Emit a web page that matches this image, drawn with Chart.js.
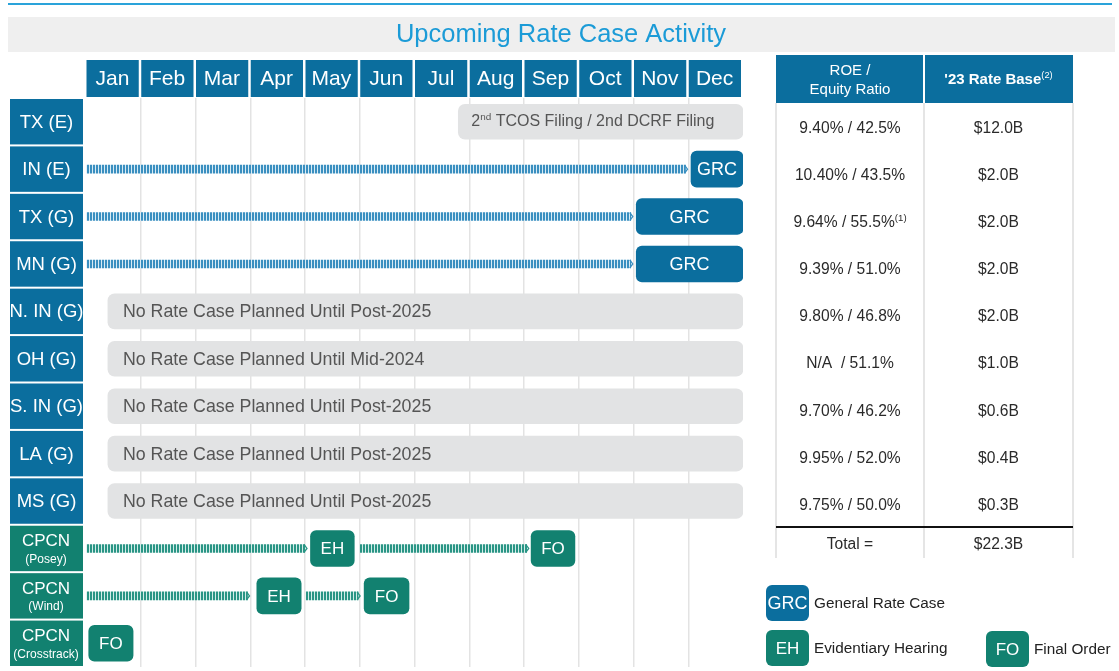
<!DOCTYPE html>
<html>
<head>
<meta charset="utf-8">
<script src="https://cdn.jsdelivr.net/npm/chart.js@4.4.1/dist/chart.umd.min.js"></script>
<style>
  html, body { margin: 0; padding: 0; background: #fff; }
  #wrap { width: 1119px; height: 671px; }
</style>
</head>
<body>
<div id="wrap"><canvas id="rateChart" width="1119" height="671"></canvas></div>
<script>
// ---- data ----
const months = ['Jan','Feb','Mar','Apr','May','Jun','Jul','Aug','Sep','Oct','Nov','Dec'];
const rows = ['TX (E)','IN (E)','TX (G)','MN (G)','N. IN (G)','OH (G)','S. IN (G)','LA (G)','MS (G)',
  ['CPCN','(Posey)'],['CPCN','(Wind)'],['CPCN','(Crosstrack)']];

// gray "no activity" bars (month units, 0 = start of Jan)
const noCaseBars = [[6.8,12],null,null,null,[0.4,12],[0.4,12],[0.4,12],[0.4,12],[0.4,12],null,null,null];
const noCaseText = ['2^nd^ TCOS Filing / 2nd DCRF Filing',null,null,null,
  'No Rate Case Planned Until Post-2025','No Rate Case Planned Until Mid-2024',
  'No Rate Case Planned Until Post-2025','No Rate Case Planned Until Post-2025',
  'No Rate Case Planned Until Post-2025',null,null,null];

// arrows and milestone boxes
const leadArrows  = [null,[0,10.95],[0,9.95],[0,9.95],null,null,null,null,null,[0,4.0],[0,2.95],null];
const firstEvent  = [null,[11.05,12],[10.05,12],[10.05,12],null,null,null,null,null,[4.1,4.9],[3.12,3.93],[0.05,0.86]];
const firstLabel  = [null,'GRC','GRC','GRC',null,null,null,null,null,'EH','EH','FO'];
const midArrows   = [null,null,null,null,null,null,null,null,null,[5.0,8.05],[4.02,4.97],null];
const secondEvent = [null,null,null,null,null,null,null,null,null,[8.13,8.93],[5.08,5.9],null];
const secondLabel = [null,null,null,null,null,null,null,null,null,'FO','FO',null];

// side table
const tableHeads = [['ROE /','Equity Ratio'], ["'23 Rate Base^(2)"]];
const roeEquity = ['9.40% / 42.5%','10.40% / 43.5%','9.64% / 55.5%^(1)','9.39% / 51.0%','9.80% / 46.8%',
  'N/A  / 51.1%','9.70% / 46.2%','9.95% / 52.0%','9.75% / 50.0%'];
const rateBase = ['$12.0B','$2.0B','$2.0B','$2.0B','$2.0B','$1.0B','$0.6B','$0.4B','$0.3B'];
const totalLabel = 'Total =';
const rateBaseTotal = '$22.3B';

const legendItems = [['GRC','General Rate Case'],['EH','Evidentiary Hearing'],['FO','Final Order']];
const title = 'Upcoming Rate Case Activity';

// ---- styles ----
const FONT = '"Liberation Sans", Arial, Helvetica, sans-serif';
const BLUE = '#0b6e9e';
const TEAL = '#128170';
const GRAY = '#e2e3e4';

function isCpcn(i) { return Array.isArray(rows[i]); }

function stripePattern(dark, light) {
  const c = document.createElement('canvas');
  c.width = 3; c.height = 10;
  const g = c.getContext('2d');
  g.fillStyle = light; g.fillRect(0, 0, 3, 10);
  g.fillStyle = dark; g.fillRect(0, 0, 2, 10);
  return g.createPattern(c, 'repeat');
}
const bluePattern = stripePattern('#3a8fc0', '#d8ebf5');
const tealPattern = stripePattern('#2a9585', '#d4ede9');

function richText(ctx, str, x, y, size, align, weight) {
  const parts = str.split('^');
  const w8 = weight || 'normal';
  let total = 0;
  parts.forEach((p, i) => {
    ctx.font = w8 + ' ' + (i % 2 ? size * 0.62 : size) + 'px ' + FONT;
    total += ctx.measureText(p).width;
  });
  let cx = align === 'center' ? x - total / 2 : x;
  ctx.textAlign = 'left';
  ctx.textBaseline = 'middle';
  parts.forEach((p, i) => {
    const s = i % 2 ? size * 0.62 : size;
    ctx.font = (i % 2 ? 'normal' : w8) + ' ' + s + 'px ' + FONT;
    ctx.fillText(p, cx, i % 2 ? y - size * 0.3 : y);
    cx += ctx.measureText(p).width;
  });
}

function roundBox(ctx, x, y, w, h, r, color) {
  ctx.fillStyle = color;
  ctx.beginPath();
  ctx.roundRect(x, y, w, h, r);
  ctx.fill();
}

const frame = {
  id: 'frame',
  beforeDraw(chart) {
    const ctx = chart.ctx;
    const xs = chart.scales.x, ys = chart.scales.y;
    const area = chart.chartArea;
    const rowH = (area.bottom - area.top) / rows.length;
    ctx.save();

    // top rule + title band
    ctx.fillStyle = '#2aa3da';
    ctx.fillRect(8, 3, 1104, 2);
    ctx.fillStyle = '#efefef';
    ctx.fillRect(8, 17, 1107, 35);
    ctx.fillStyle = '#1b9bd7';
    ctx.font = '25.5px ' + FONT;
    ctx.textAlign = 'center';
    ctx.textBaseline = 'middle';
    ctx.fillText(title, 561, 35);

    // month header
    months.forEach((m, i) => {
      const x0 = xs.getPixelForValue(i), x1 = xs.getPixelForValue(i + 1);
      ctx.fillStyle = BLUE;
      ctx.fillRect(x0 + 0.5, 60, x1 - x0 - 2.5, 37);
      ctx.fillStyle = '#fff';
      ctx.font = '21px ' + FONT;
      ctx.textAlign = 'center';
      ctx.fillText(m, (x0 + x1) / 2 - 1, 79);
    });

    // row labels
    rows.forEach((r, i) => {
      const yc = ys.getPixelForValue(i);
      ctx.fillStyle = isCpcn(i) ? TEAL : BLUE;
      ctx.fillRect(10, yc - rowH / 2 + 1, 73, rowH - 2);
      ctx.fillStyle = '#fff';
      ctx.textAlign = 'center';
      if (Array.isArray(r)) {
        ctx.font = '17px ' + FONT;
        ctx.fillText(r[0], 46, yc - 7);
        ctx.font = '12px ' + FONT;
        ctx.fillText(r[1], 46, yc + 11);
      } else {
        ctx.font = '18.5px ' + FONT;
        ctx.fillText(r, 46.5, yc + 1);
      }
    });

    // side table
    const tL = 776, tM = 924, tR = 1073, tTop = 55, hBot = 103, bodyBot = 527, tBot = 558;
    ctx.fillStyle = BLUE;
    ctx.fillRect(tL, tTop, tR - tL, hBot - tTop);
    ctx.fillStyle = '#fff';
    ctx.fillRect(tM - 1, tTop, 2, hBot - tTop);
    ctx.font = '15px ' + FONT;
    ctx.textAlign = 'center';
    ctx.fillText(tableHeads[0][0], (tL + tM) / 2, 71);
    ctx.fillText(tableHeads[0][1], (tL + tM) / 2, 90);
    richText(ctx, tableHeads[1][0], (tM + tR) / 2, 80, 15, 'center', 'bold');

    ctx.strokeStyle = '#dcdcdc';
    ctx.lineWidth = 1.5;
    [tL, tM, tR].forEach(x => {
      ctx.beginPath(); ctx.moveTo(x, hBot); ctx.lineTo(x, tBot); ctx.stroke();
    });
    const bodyRow = (bodyBot - hBot) / roeEquity.length;
    ctx.fillStyle = '#2a2a2a';
    roeEquity.forEach((v, i) => {
      const yc = hBot + (i + 0.5) * bodyRow + 2;
      richText(ctx, v, (tL + tM) / 2, yc, 15.6, 'center');
      richText(ctx, rateBase[i], (tM + tR) / 2, yc, 15.6, 'center');
    });
    ctx.strokeStyle = '#111';
    ctx.lineWidth = 2;
    ctx.beginPath(); ctx.moveTo(tL, bodyBot); ctx.lineTo(tR, bodyBot); ctx.stroke();
    richText(ctx, totalLabel, (tL + tM) / 2, 545, 15.6, 'center');
    richText(ctx, rateBaseTotal, (tM + tR) / 2, 545, 15.6, 'center');

    // legend
    const spots = [[766, 585], [766, 630], [986, 631]];
    legendItems.forEach((it, i) => {
      const [lx, ly] = spots[i];
      roundBox(ctx, lx, ly, 43, 36, 6, i === 0 ? BLUE : TEAL);
      ctx.fillStyle = '#fff';
      ctx.font = (i === 0 ? 18 : 17) + 'px ' + FONT;
      ctx.textAlign = 'center';
      ctx.fillText(it[0], lx + 21.5, ly + 19);
      ctx.fillStyle = '#222';
      ctx.font = '15.3px ' + FONT;
      ctx.textAlign = 'left';
      ctx.fillText(it[1], lx + 48, ly + 19);
    });
    ctx.restore();
  },
  afterDatasetsDraw(chart) {
    const ctx = chart.ctx;
    ctx.save();
    ctx.textBaseline = 'middle';

    // text inside gray bars
    chart.getDatasetMeta(0).data.forEach((el, i) => {
      if (!noCaseBars[i]) return;
      ctx.fillStyle = '#555';
      const first = i === 0;
      richText(ctx, noCaseText[i], el.base + (first ? 13 : 15), el.y + (first ? 0 : 1), first ? 16 : 17.8, 'left');
    });

    // arrow heads
    [1, 3].forEach(di => {
      chart.getDatasetMeta(di).data.forEach((el, i) => {
        const src = di === 1 ? leadArrows : midArrows;
        if (!src[i]) return;
        ctx.strokeStyle = isCpcn(i) ? '#2a9585' : '#3a8fc0';
        ctx.lineWidth = 1.3;
        ctx.beginPath();
        ctx.moveTo(el.x - 1, el.y - 4);
        ctx.lineTo(el.x + 2, el.y);
        ctx.lineTo(el.x - 1, el.y + 4);
        ctx.stroke();
      });
    });

    // milestone labels
    [[2, firstLabel], [4, secondLabel]].forEach(([di, labels]) => {
      chart.getDatasetMeta(di).data.forEach((el, i) => {
        if (!labels[i]) return;
        ctx.fillStyle = '#fff';
        ctx.font = (labels[i] === 'GRC' ? 18 : 17) + 'px ' + FONT;
        ctx.textAlign = 'center';
        ctx.fillText(labels[i], (el.x + el.base) / 2, el.y + 1);
      });
    });
    ctx.restore();
  }
};

const eventColor = c => isCpcn(c.dataIndex) ? TEAL : BLUE;
const arrowFill = c => isCpcn(c.dataIndex) ? tealPattern : bluePattern;

new Chart(document.getElementById('rateChart'), {
  type: 'bar',
  data: {
    labels: rows,
    datasets: [
      { data: noCaseBars, backgroundColor: GRAY, barThickness: 35, borderRadius: 7, borderSkipped: false, grouped: false },
      { data: leadArrows, backgroundColor: arrowFill, barThickness: 8, grouped: false },
      { data: firstEvent, backgroundColor: eventColor, barThickness: 36, borderRadius: 6, borderSkipped: false, grouped: false },
      { data: midArrows, backgroundColor: arrowFill, barThickness: 8, grouped: false },
      { data: secondEvent, backgroundColor: eventColor, barThickness: 36, borderRadius: 6, borderSkipped: false, grouped: false }
    ]
  },
  options: {
    indexAxis: 'y',
    responsive: false,
    animation: false,
    devicePixelRatio: 1,
    layout: { padding: { left: 86, right: 376, top: 98, bottom: 4 } },
    plugins: { legend: { display: false }, tooltip: { enabled: false } },
    scales: {
      x: {
        type: 'linear', min: 0, max: 12, position: 'top',
        ticks: { display: false, stepSize: 1 },
        border: { display: false },
        grid: {
          drawTicks: false,
          lineWidth: 1.5,
          color: c => (c.tick.value === 0 || c.tick.value === 12) ? 'rgba(0,0,0,0)' : '#e3e3e3'
        }
      },
      y: { display: false }
    }
  },
  plugins: [frame]
});
</script>
</body>
</html>
